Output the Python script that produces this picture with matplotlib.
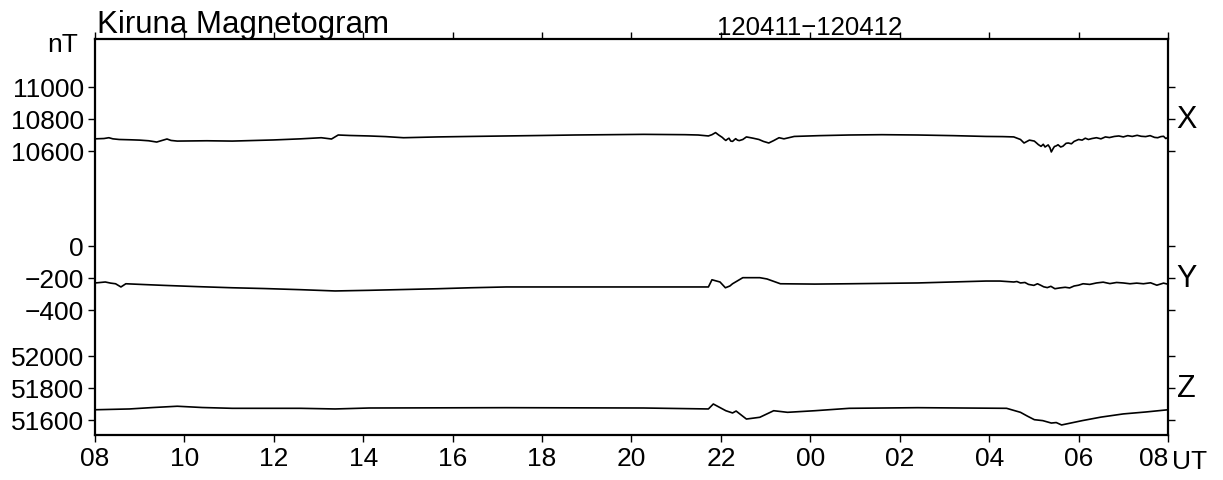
import matplotlib
matplotlib.use("Agg")
import matplotlib.pyplot as plt

plt.rcParams['font.family'] = ['Liberation Sans', 'DejaVu Sans']

# time in hours from 08 UT on day 1 (8 .. 32)
x_time = [8.00, 8.20, 8.31, 8.40, 8.54, 8.80, 9.00, 9.20, 9.38, 9.61,
          9.70, 9.84, 10.50, 11.07, 11.99, 12.60, 13.06, 13.29, 13.44, 13.70,
          14.13, 14.50, 14.90, 15.67, 16.40, 17.20, 18.00, 18.73, 19.50, 20.27,
          21.20, 21.49, 21.72, 21.80, 21.88, 21.95, 22.03, 22.08, 22.11, 22.15,
          22.18, 22.22, 22.26, 22.30, 22.33, 22.37, 22.41, 22.49, 22.57, 22.72,
          22.85, 22.95, 23.07, 23.18, 23.30, 23.41, 23.64, 24.20, 24.87, 25.60,
          26.40, 27.20, 27.93, 28.30, 28.55, 28.70, 28.78, 28.90, 29.01, 29.06,
          29.10, 29.16, 29.21, 29.25, 29.32, 29.36, 29.39, 29.43, 29.46, 29.50,
          29.54, 29.60, 29.65, 29.72, 29.77, 29.84, 29.90, 30.00, 30.08, 30.15,
          30.22, 30.30, 30.40, 30.50, 30.60, 30.69, 30.80, 30.90, 31.00, 31.10,
          31.20, 31.31, 31.40, 31.50, 31.60, 31.70, 31.77, 31.84, 31.90, 31.95,
          32.00]
x_val = [10676, 10678, 10683, 10676, 10672, 10670, 10668, 10664, 10656, 10675,
         10666, 10662, 10664, 10662, 10669, 10676, 10683, 10675, 10700, 10697,
         10694, 10690, 10683, 10688, 10691, 10694, 10697, 10700, 10702, 10704,
         10702, 10700, 10694, 10702, 10715, 10700, 10685, 10672, 10666, 10675,
         10680, 10662, 10660, 10670, 10677, 10668, 10665, 10672, 10688, 10680,
         10672, 10660, 10650, 10665, 10683, 10676, 10691, 10696, 10700, 10702,
         10700, 10696, 10691, 10690, 10688, 10672, 10650, 10668, 10662, 10650,
         10640, 10629, 10642, 10625, 10638, 10620, 10594, 10615, 10628, 10632,
         10639, 10625, 10630, 10648, 10650, 10645, 10660, 10672, 10668, 10680,
         10672, 10678, 10683, 10676, 10688, 10684, 10691, 10694, 10688, 10696,
         10691, 10698, 10692, 10690, 10696, 10685, 10683, 10690, 10692, 10678,
         10684]

y_time = [8.00, 8.12, 8.23, 8.35, 8.46, 8.58, 8.69, 9.10, 9.53, 10.30,
          11.07, 11.80, 12.60, 13.37, 14.13, 14.90, 15.67, 16.40, 17.20, 18.73,
          20.27, 21.72, 21.80, 21.98, 22.10, 22.20, 22.26, 22.49, 22.87, 23.03,
          23.33, 24.10, 24.87, 26.40, 27.93, 28.24, 28.55, 28.62, 28.70, 28.80,
          28.88, 29.00, 29.08, 29.15, 29.22, 29.30, 29.38, 29.47, 29.58, 29.70,
          29.80, 29.90, 30.00, 30.10, 30.25, 30.40, 30.55, 30.70, 30.85, 31.00,
          31.15, 31.30, 31.45, 31.61, 31.75, 31.90, 32.00]
y_val = [-231, -228, -225, -232, -236, -256, -236, -241, -246, -254,
         -261, -266, -273, -281, -277, -272, -267, -261, -256, -256,
         -256, -256, -211, -225, -261, -250, -236, -198, -198, -206,
         -236, -238, -236, -231, -219, -219, -225, -222, -231, -228,
         -240, -246, -236, -245, -255, -260, -252, -267, -262, -258,
         -262, -250, -245, -236, -240, -231, -226, -235, -228, -231,
         -236, -232, -236, -230, -245, -232, -239]

z_time = [8.00, 8.77, 9.30, 9.84, 10.40, 11.07, 12.60, 13.37, 14.13, 17.20,
          20.27, 21.72, 21.83, 22.11, 22.26, 22.34, 22.57, 22.87, 23.18, 23.49,
          24.10, 24.87, 26.40, 28.39, 28.70, 28.85, 29.01, 29.20, 29.39, 29.50,
          29.62, 30.08, 30.50, 31.00, 31.50, 32.00]
z_val = [51664, 51669, 51678, 51686, 51678, 51673, 51673, 51669, 51675, 51677,
         51675, 51669, 51700, 51658, 51644, 51656, 51606, 51617, 51658, 51648,
         51658, 51673, 51677, 51673, 51648, 51625, 51602, 51596, 51581, 51584,
         51569, 51596, 51618, 51638, 51650, 51664]

hour_ticks = list(range(8, 33, 2))
hour_labels = ["%02d" % (h % 24) for h in hour_ticks]

# each component is shifted onto one common scale (nT, Y component unshifted)
x_shift = 10006.25
z_shift = 52687.5
x_ticks = [10600, 10800, 11000]
y_ticks = [-400, -200, 0]
z_ticks = [51600, 51800, 52000]

fig = plt.figure(figsize=(12.23, 4.81), dpi=100)
ax = fig.add_axes([95 / 1223, 1 - 436 / 481, 1073 / 1223, 396 / 481])

ax.plot(x_time, [v - x_shift for v in x_val], color="black", lw=1.2)
ax.plot(y_time, y_val, color="black", lw=1.2)
ax.plot(z_time, [v - z_shift for v in z_val], color="black", lw=1.2)

ax.set_xlim(8, 32)
ax.set_ylim(-1181.25, 1293.75)

ticks = [t - z_shift for t in z_ticks] + y_ticks + [t - x_shift for t in x_ticks]
labels = [str(t) for t in z_ticks] + [str(t).replace("-", "\u2212") for t in y_ticks] + [str(t) for t in x_ticks]
ax.set_yticks(ticks)
ax.set_yticklabels(labels)
ax.set_xticks(hour_ticks)
ax.set_xticklabels(hour_labels)

ax.tick_params(axis="both", direction="out", length=5, width=1, labelsize=19, pad=3,
               top=True, right=True, labeltop=False, labelright=False)
# last "08" sits left of its tick so that "UT" fits beside it
ax.get_xticklabels()[-1].set_ha("right")
for s in ax.spines.values():
    s.set_linewidth(1.6)

# component labels on the right
ax.text(1.008, 10800 - x_shift, "X", transform=ax.get_yaxis_transform(), fontsize=22,
        va="center", ha="left")
ax.text(1.008, -200, "Y", transform=ax.get_yaxis_transform(), fontsize=22,
        va="center", ha="left")
ax.text(1.008, 51800 - z_shift, "Z", transform=ax.get_yaxis_transform(), fontsize=22,
        va="center", ha="left")

fig.text(97 / 1223, 1 - 40 / 481, "Kiruna Magnetogram", fontsize=22.5, ha="left", va="bottom")
fig.text(810 / 1223, 1 - 40 / 481, "120411\u2212120412", fontsize=18.5, ha="center", va="bottom")
fig.text(78 / 1223, 1 - 45 / 481, "nT", fontsize=19, ha="right", va="center")
fig.text(1172 / 1223, 1 - 462 / 481, "UT", fontsize=19, ha="left", va="center")

fig.savefig("out.png", dpi=100)
